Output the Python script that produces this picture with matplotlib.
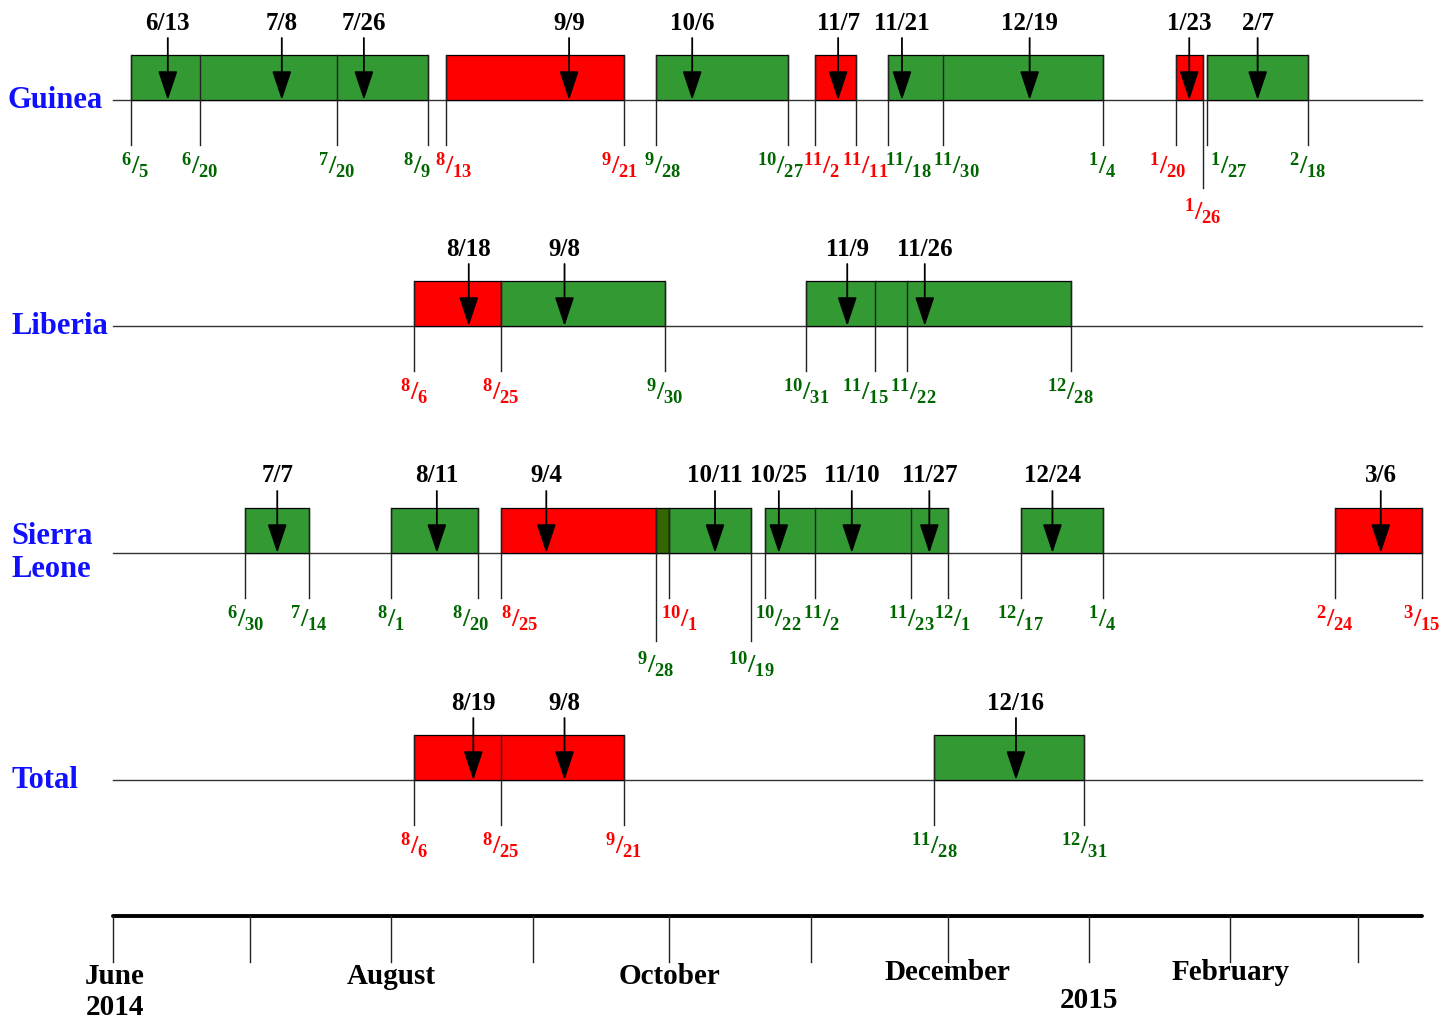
import matplotlib.pyplot as plt
from matplotlib.patches import Rectangle
from datetime import date

plt.rcParams['font.family'] = ['Liberation Serif', 'DejaVu Serif']
plt.rcParams['font.weight'] = 'bold'
plt.rcParams['mathtext.fontset'] = 'custom'
plt.rcParams['mathtext.rm'] = 'Liberation Serif:bold'
plt.rcParams['mathtext.it'] = 'Liberation Serif:bold'
plt.rcParams['mathtext.bf'] = 'Liberation Serif:bold'

# --- data: (start, end, colour) bars, peak dates, dates marked below each row
row_names = ['Guinea', 'Liberia', 'Sierra\nLeone', 'Total']

guinea_bars = [('6/5', '8/9', 'g'), ('8/13', '9/21', 'r'), ('9/28', '10/27', 'g'),
               ('11/2', '11/11', 'r'), ('11/18', '1/4', 'g'), ('1/20', '1/26', 'r'),
               ('1/27', '2/18', 'g')]
guinea_peaks = ['6/13', '7/8', '7/26', '9/9', '10/6', '11/7', '11/21', '12/19', '1/23', '2/7']
guinea_ticks = [('6/5', 'g'), ('6/20', 'g'), ('7/20', 'g'), ('8/9', 'g'), ('8/13', 'r'),
                ('9/21', 'r'), ('9/28', 'g'), ('10/27', 'g'), ('11/2', 'r'), ('11/11', 'r'),
                ('11/18', 'g'), ('11/30', 'g'), ('1/4', 'g'), ('1/20', 'r'), ('1/26', 'r'),
                ('1/27', 'g'), ('2/18', 'g')]
guinea_long = ['1/26']

liberia_bars = [('8/6', '8/25', 'r'), ('8/25', '9/30', 'g'), ('10/31', '12/28', 'g')]
liberia_peaks = ['8/18', '9/8', '11/9', '11/26']
liberia_ticks = [('8/6', 'r'), ('8/25', 'r'), ('9/30', 'g'), ('10/31', 'g'), ('11/15', 'g'),
                 ('11/22', 'g'), ('12/28', 'g')]
liberia_long = []

sl_bars = [('6/30', '7/14', 'g'), ('8/1', '8/20', 'g'), ('8/25', '9/28', 'r'),
           ('9/28', '10/1', 'd'), ('10/1', '10/19', 'g'), ('10/22', '12/1', 'g'),
           ('12/17', '1/4', 'g'), ('2/24', '3/15', 'r')]
sl_peaks = ['7/7', '8/11', '9/4', '10/11', '10/25', '11/10', '11/27', '12/24', '3/6']
sl_ticks = [('6/30', 'g'), ('7/14', 'g'), ('8/1', 'g'), ('8/20', 'g'), ('8/25', 'r'),
            ('9/28', 'g'), ('10/1', 'r'), ('10/19', 'g'), ('10/22', 'g'), ('11/2', 'g'),
            ('11/23', 'g'), ('12/1', 'g'), ('12/17', 'g'), ('1/4', 'g'), ('2/24', 'r'),
            ('3/15', 'r')]
sl_long = ['9/28', '10/19']

total_bars = [('8/6', '9/21', 'r'), ('11/28', '12/31', 'g')]
total_peaks = ['8/19', '9/8', '12/16']
total_ticks = [('8/6', 'r'), ('8/25', 'r'), ('9/21', 'r'), ('11/28', 'g'), ('12/31', 'g')]
total_long = []

month_ticks = ['6/1', '7/1', '8/1', '9/1', '10/1', '11/1', '12/1', '1/1', '2/1', '3/1']
month_names = {'6/1': 'June\n2014', '8/1': 'August', '10/1': 'October',
               '12/1': 'December', '2/1': 'February'}
timeline_end = '3/15'

# --- styling / layout
fill = {'g': '#339933', 'r': '#ff0000', 'd': '#336600'}
txt = {'g': '#006600', 'r': '#ff0000'}
base_y = [100, 326, 553, 780]
bar_h = 45
# small sideways nudges (pixels) to keep crowded date labels apart
nudge = [
    {'6/5': 4, '8/9': -11, '8/13': 8, '9/21': -4, '9/28': 7, '10/27': -8, '11/2': 6,
     '11/11': 9, '11/18': 20, '11/30': 13, '1/20': -8, '1/27': 21},
    {'11/15': -9, '11/22': 7},
    {'8/20': -7, '8/25': 19, '10/1': 10, '10/22': 13, '11/2': 6, '12/1': 5},
    {},
]


def day(s):
    m, d = map(int, s.split('/'))
    y = 2014 if m >= 6 else 2015
    return (date(y, m, d) - date(2014, 6, 1)).days


def frac(s):
    m, d = s.split('/')
    return r'${}^{%s}/_{%s}$' % (m, d)


fig = plt.figure(figsize=(14.56, 10.22), dpi=100)
ax = fig.add_axes([0, 0, 1, 1])
ax.set_xlim(-24.8, 294.5)
ax.set_ylim(1022, 0)
ax.axis('off')

rows = [
    (guinea_bars, guinea_peaks, guinea_ticks, guinea_long),
    (liberia_bars, liberia_peaks, liberia_ticks, liberia_long),
    (sl_bars, sl_peaks, sl_ticks, sl_long),
    (total_bars, total_peaks, total_ticks, total_long),
]

for i, (bars, peaks, ticks, longs) in enumerate(rows):
    y0 = base_y[i]
    ax.plot([0, day(timeline_end)], [y0, y0], color='#333333', lw=1, zorder=1)
    ax.text(-23.2 if i == 0 else -22.3, y0, row_names[i], color='#1010ff', fontsize=22,
            fontweight='bold', ha='left', va='center', linespacing=1.2)
    for s, e, c in bars:
        ax.add_patch(Rectangle((day(s), y0 - bar_h), day(e) - day(s), bar_h,
                               facecolor=fill[c], edgecolor='black', lw=0.9, zorder=2))
    for t, c in ticks:
        long = t in longs
        bottom = y0 + (88 if long else 45)
        ax.plot([day(t), day(t)], [y0 - bar_h, bottom], color='#222222', lw=1, zorder=3)
        ax.annotate(frac(t), xy=(day(t), y0 + (112 if long else 66)),
                    xytext=(nudge[i].get(t, 0), 0), textcoords='offset pixels',
                    ha='center', va='center', fontsize=19, color=txt[c])
    for p in peaks:
        ax.annotate('', xy=(day(p), y0), xytext=(day(p), y0 - 62),
                    arrowprops=dict(arrowstyle='-|>,head_length=1.8,head_width=0.6',
                                    color='black', lw=1.3, shrinkA=0, shrinkB=0),
                    zorder=4)
        ax.text(day(p), y0 - 77, p, ha='center', va='center', fontsize=18,
                fontweight='bold', color='black')

# bottom time axis
ty = 916
ax.plot([0, day(timeline_end)], [ty, ty], color='black', lw=2.8, solid_capstyle='round')
for m in month_ticks:
    ax.plot([day(m), day(m)], [ty, ty + 46], color='#222222', lw=1)
    if m in month_names:
        yy = 972 if m in ('12/1', '2/1') else 976
        if m == '6/1':
            ax.text(day(m) + 0.4, 992, month_names[m], ha='center', va='center', fontsize=21,
                    fontweight='bold', linespacing=1.2)
        else:
            ax.text(day(m), yy, month_names[m], ha='center', va='center', fontsize=21,
                    fontweight='bold')
ax.text(day('1/1'), 1001, '2015', ha='center', va='center', fontsize=21, fontweight='bold')

plt.savefig('out.png', dpi=100)
